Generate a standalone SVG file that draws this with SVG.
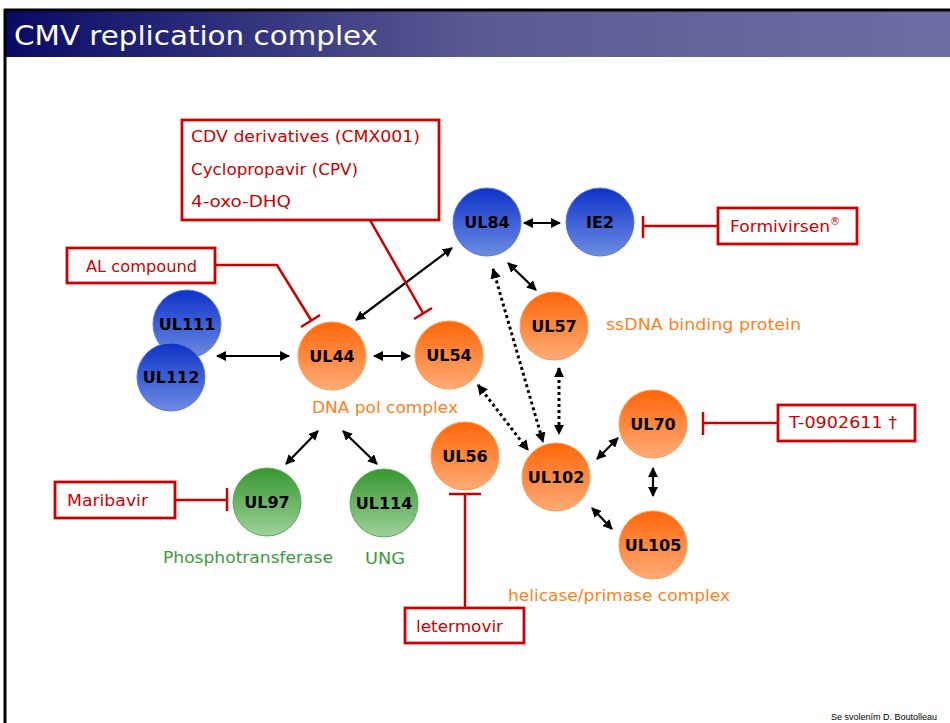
<svg xmlns="http://www.w3.org/2000/svg" width="950" height="723" viewBox="0 0 950 723">
<style>
.t{font-family:"DejaVu Sans","Liberation Sans",sans-serif}
.node{font-family:"DejaVu Sans","Liberation Sans",sans-serif;font-weight:bold;font-size:16px;fill:#000;text-anchor:middle}
.red{font-family:"DejaVu Sans","Liberation Sans",sans-serif;font-size:16px;fill:#cc0000}
.org{font-family:"DejaVu Sans","Liberation Sans",sans-serif;font-size:16px;fill:#ff7f22}
.grn{font-family:"DejaVu Sans","Liberation Sans",sans-serif;font-size:16px;fill:#3c9a3c}
.box{fill:#fff;stroke:#cc0000;stroke-width:2.8}
.inh{fill:none;stroke:#cc0000;stroke-width:2.5}
.con{fill:none;stroke:#000;stroke-width:2.2;marker-start:url(#ah);marker-end:url(#ah)}
.dot{fill:none;stroke:#000;stroke-width:3;stroke-dasharray:3 3;marker-start:url(#ah2);marker-end:url(#ah2)}
.bc{fill:url(#gb);stroke:#5a7ad8;stroke-width:1}
.oc{fill:url(#go);stroke:#ff9a50;stroke-width:1}
.gc{fill:url(#gg);stroke:#5aaa5a;stroke-width:1}
</style>
<defs>
<linearGradient id="title" x1="0" y1="0" x2="1" y2="0">
<stop offset="0" stop-color="#0a0a66"/><stop offset="0.5" stop-color="#5a5a94"/><stop offset="1" stop-color="#6e6ea6"/>
</linearGradient>
<linearGradient id="gb" x1="0" y1="0" x2="0" y2="1"><stop offset="0" stop-color="#0e32c8"/><stop offset="1" stop-color="#6d8ce2"/></linearGradient>
<linearGradient id="go" x1="0" y1="0" x2="0" y2="1"><stop offset="0" stop-color="#ff6608"/><stop offset="1" stop-color="#ffac78"/></linearGradient>
<linearGradient id="gg" x1="0" y1="0" x2="0" y2="1"><stop offset="0" stop-color="#36962f"/><stop offset="1" stop-color="#9fd29a"/></linearGradient>
<marker id="ah" viewBox="0 0 10 10" refX="9" refY="5" markerWidth="4.5" markerHeight="4.5" orient="auto-start-reverse" markerUnits="strokeWidth"><path d="M0,0 L10,5 L0,10 Z" fill="#000"/></marker>
<marker id="ah2" viewBox="0 0 10 10" refX="9" refY="5" markerWidth="3.5" markerHeight="3.5" orient="auto-start-reverse" markerUnits="strokeWidth"><path d="M0,0 L10,5 L0,10 Z" fill="#000"/></marker>
</defs>
<rect x="0" y="0" width="950" height="723" fill="#fff"/>
<rect x="6" y="11" width="944" height="46" fill="url(#title)"/>
<line x1="4" y1="10" x2="950" y2="10" stroke="#000" stroke-width="3"/>
<line x1="5" y1="9" x2="5" y2="723" stroke="#000" stroke-width="3"/>
<text x="14" y="45" class="t" font-size="27" fill="#fff" textLength="364" lengthAdjust="spacingAndGlyphs">CMV replication complex</text>

<g id="connectors">
<line class="con" x1="217" y1="356" x2="289" y2="356"/>
<line class="con" x1="374" y1="356" x2="410" y2="356"/>
<line class="con" x1="356" y1="320" x2="452" y2="248"/>
<line class="con" x1="524" y1="223" x2="560" y2="223"/>
<line class="con" x1="508" y1="263" x2="536" y2="290"/>
<line class="dot" x1="493" y1="269" x2="543" y2="442"/>
<line class="dot" x1="559" y1="368" x2="559" y2="434"/>
<line class="dot" x1="478" y1="385" x2="528" y2="450"/>
<line class="con" x1="597" y1="459" x2="618" y2="438"/>
<line class="con" x1="653" y1="468" x2="653" y2="496"/>
<line class="con" x1="592" y1="508" x2="612" y2="529"/>
<line class="con" x1="318" y1="431" x2="286" y2="464"/>
<line class="con" x1="343" y1="431" x2="377" y2="464"/>
<polyline class="inh" points="215,265 277,265 311,320"/>
<line class="inh" x1="301" y1="327" x2="320" y2="315"/>
<line class="inh" x1="370" y1="220" x2="423" y2="313"/>
<line class="inh" x1="414" y1="319" x2="432" y2="308"/>
<line class="inh" x1="718" y1="226" x2="643" y2="226"/>
<line class="inh" x1="643" y1="216" x2="643" y2="238"/>
<line class="inh" x1="778" y1="423" x2="703" y2="423"/>
<line class="inh" x1="703" y1="412" x2="703" y2="435"/>
<line class="inh" x1="175" y1="500" x2="227" y2="500"/>
<line class="inh" x1="227" y1="488" x2="227" y2="511"/>
<line class="inh" x1="465" y1="608" x2="465" y2="494"/>
<line class="inh" x1="449" y1="494" x2="481" y2="494"/>
</g>

<g id="UL111"><circle class="bc" cx="187" cy="324" r="34"/><text class="node" x="187" y="330">UL111</text></g>
<g id="UL112"><circle class="bc" cx="171" cy="377" r="34"/><text class="node" x="171" y="383">UL112</text></g>
<g id="UL84"><circle class="bc" cx="487" cy="222" r="34"/><text class="node" x="487" y="228">UL84</text></g>
<g id="IE2"><circle class="bc" cx="600" cy="222" r="34"/><text class="node" x="600" y="228">IE2</text></g>
<g id="UL44"><circle class="oc" cx="332" cy="356" r="34"/><text class="node" x="332" y="362">UL44</text></g>
<g id="UL54"><circle class="oc" cx="449" cy="355" r="34"/><text class="node" x="449" y="361">UL54</text></g>
<g id="UL57"><circle class="oc" cx="554" cy="326" r="34"/><text class="node" x="554" y="332">UL57</text></g>
<g id="UL56"><circle class="oc" cx="465" cy="456" r="34"/><text class="node" x="465" y="462">UL56</text></g>
<g id="UL102"><circle class="oc" cx="556" cy="477" r="34"/><text class="node" x="556" y="483">UL102</text></g>
<g id="UL70"><circle class="oc" cx="653" cy="424" r="34"/><text class="node" x="653" y="430">UL70</text></g>
<g id="UL105"><circle class="oc" cx="653" cy="545" r="34"/><text class="node" x="653" y="551">UL105</text></g>
<g id="UL97"><circle class="gc" cx="267" cy="502" r="34"/><text class="node" x="267" y="508">UL97</text></g>
<g id="UL114"><circle class="gc" cx="384" cy="503" r="34"/><text class="node" x="384" y="509">UL114</text></g>

<g id="CDV-box"><rect class="box" x="182" y="120" width="257" height="100"/>
<text class="red" x="191" y="142" textLength="229" lengthAdjust="spacingAndGlyphs">CDV derivatives (CMX001)</text>
<text class="red" x="191" y="175" textLength="167" lengthAdjust="spacingAndGlyphs">Cyclopropavir (CPV)</text>
<text class="red" x="191" y="207" textLength="100" lengthAdjust="spacingAndGlyphs">4-oxo-DHQ</text></g>
<g id="AL-box"><rect class="box" x="67" y="248" width="148" height="35"/><text class="red" x="86" y="272" textLength="111" lengthAdjust="spacingAndGlyphs">AL compound</text></g>
<g id="Formivirsen-box"><rect class="box" x="718" y="208" width="139" height="36"/><text class="red" x="730" y="232"><tspan textLength="100" lengthAdjust="spacingAndGlyphs">Formivirsen</tspan><tspan font-size="10" dy="-7">®</tspan></text></g>
<g id="T0902611-box"><rect class="box" x="778" y="405" width="137" height="36"/><text class="red" x="789" y="428" textLength="108" lengthAdjust="spacingAndGlyphs">T-0902611 †</text></g>
<g id="Maribavir-box"><rect class="box" x="55" y="482" width="120" height="36"/><text class="red" x="67" y="506" textLength="81" lengthAdjust="spacingAndGlyphs">Maribavir</text></g>
<g id="letermovir-box"><rect class="box" x="405" y="608" width="119" height="35"/><text class="red" x="416" y="632" textLength="87" lengthAdjust="spacingAndGlyphs">letermovir</text></g>

<text class="org" x="312" y="413" textLength="146" lengthAdjust="spacingAndGlyphs">DNA pol complex</text>
<text class="org" x="606" y="330" textLength="195" lengthAdjust="spacingAndGlyphs">ssDNA binding protein</text>
<text class="org" x="508" y="601" textLength="222" lengthAdjust="spacingAndGlyphs">helicase/primase complex</text>
<text class="grn" x="163" y="563" textLength="170" lengthAdjust="spacingAndGlyphs">Phosphotransferase</text>
<text class="grn" x="365" y="564" textLength="40" lengthAdjust="spacingAndGlyphs">UNG</text>
<text x="831" y="720" font-family="Liberation Sans, Arial, sans-serif" font-size="9" fill="#000">Se svolením D. Boutolleau</text>
</svg>
